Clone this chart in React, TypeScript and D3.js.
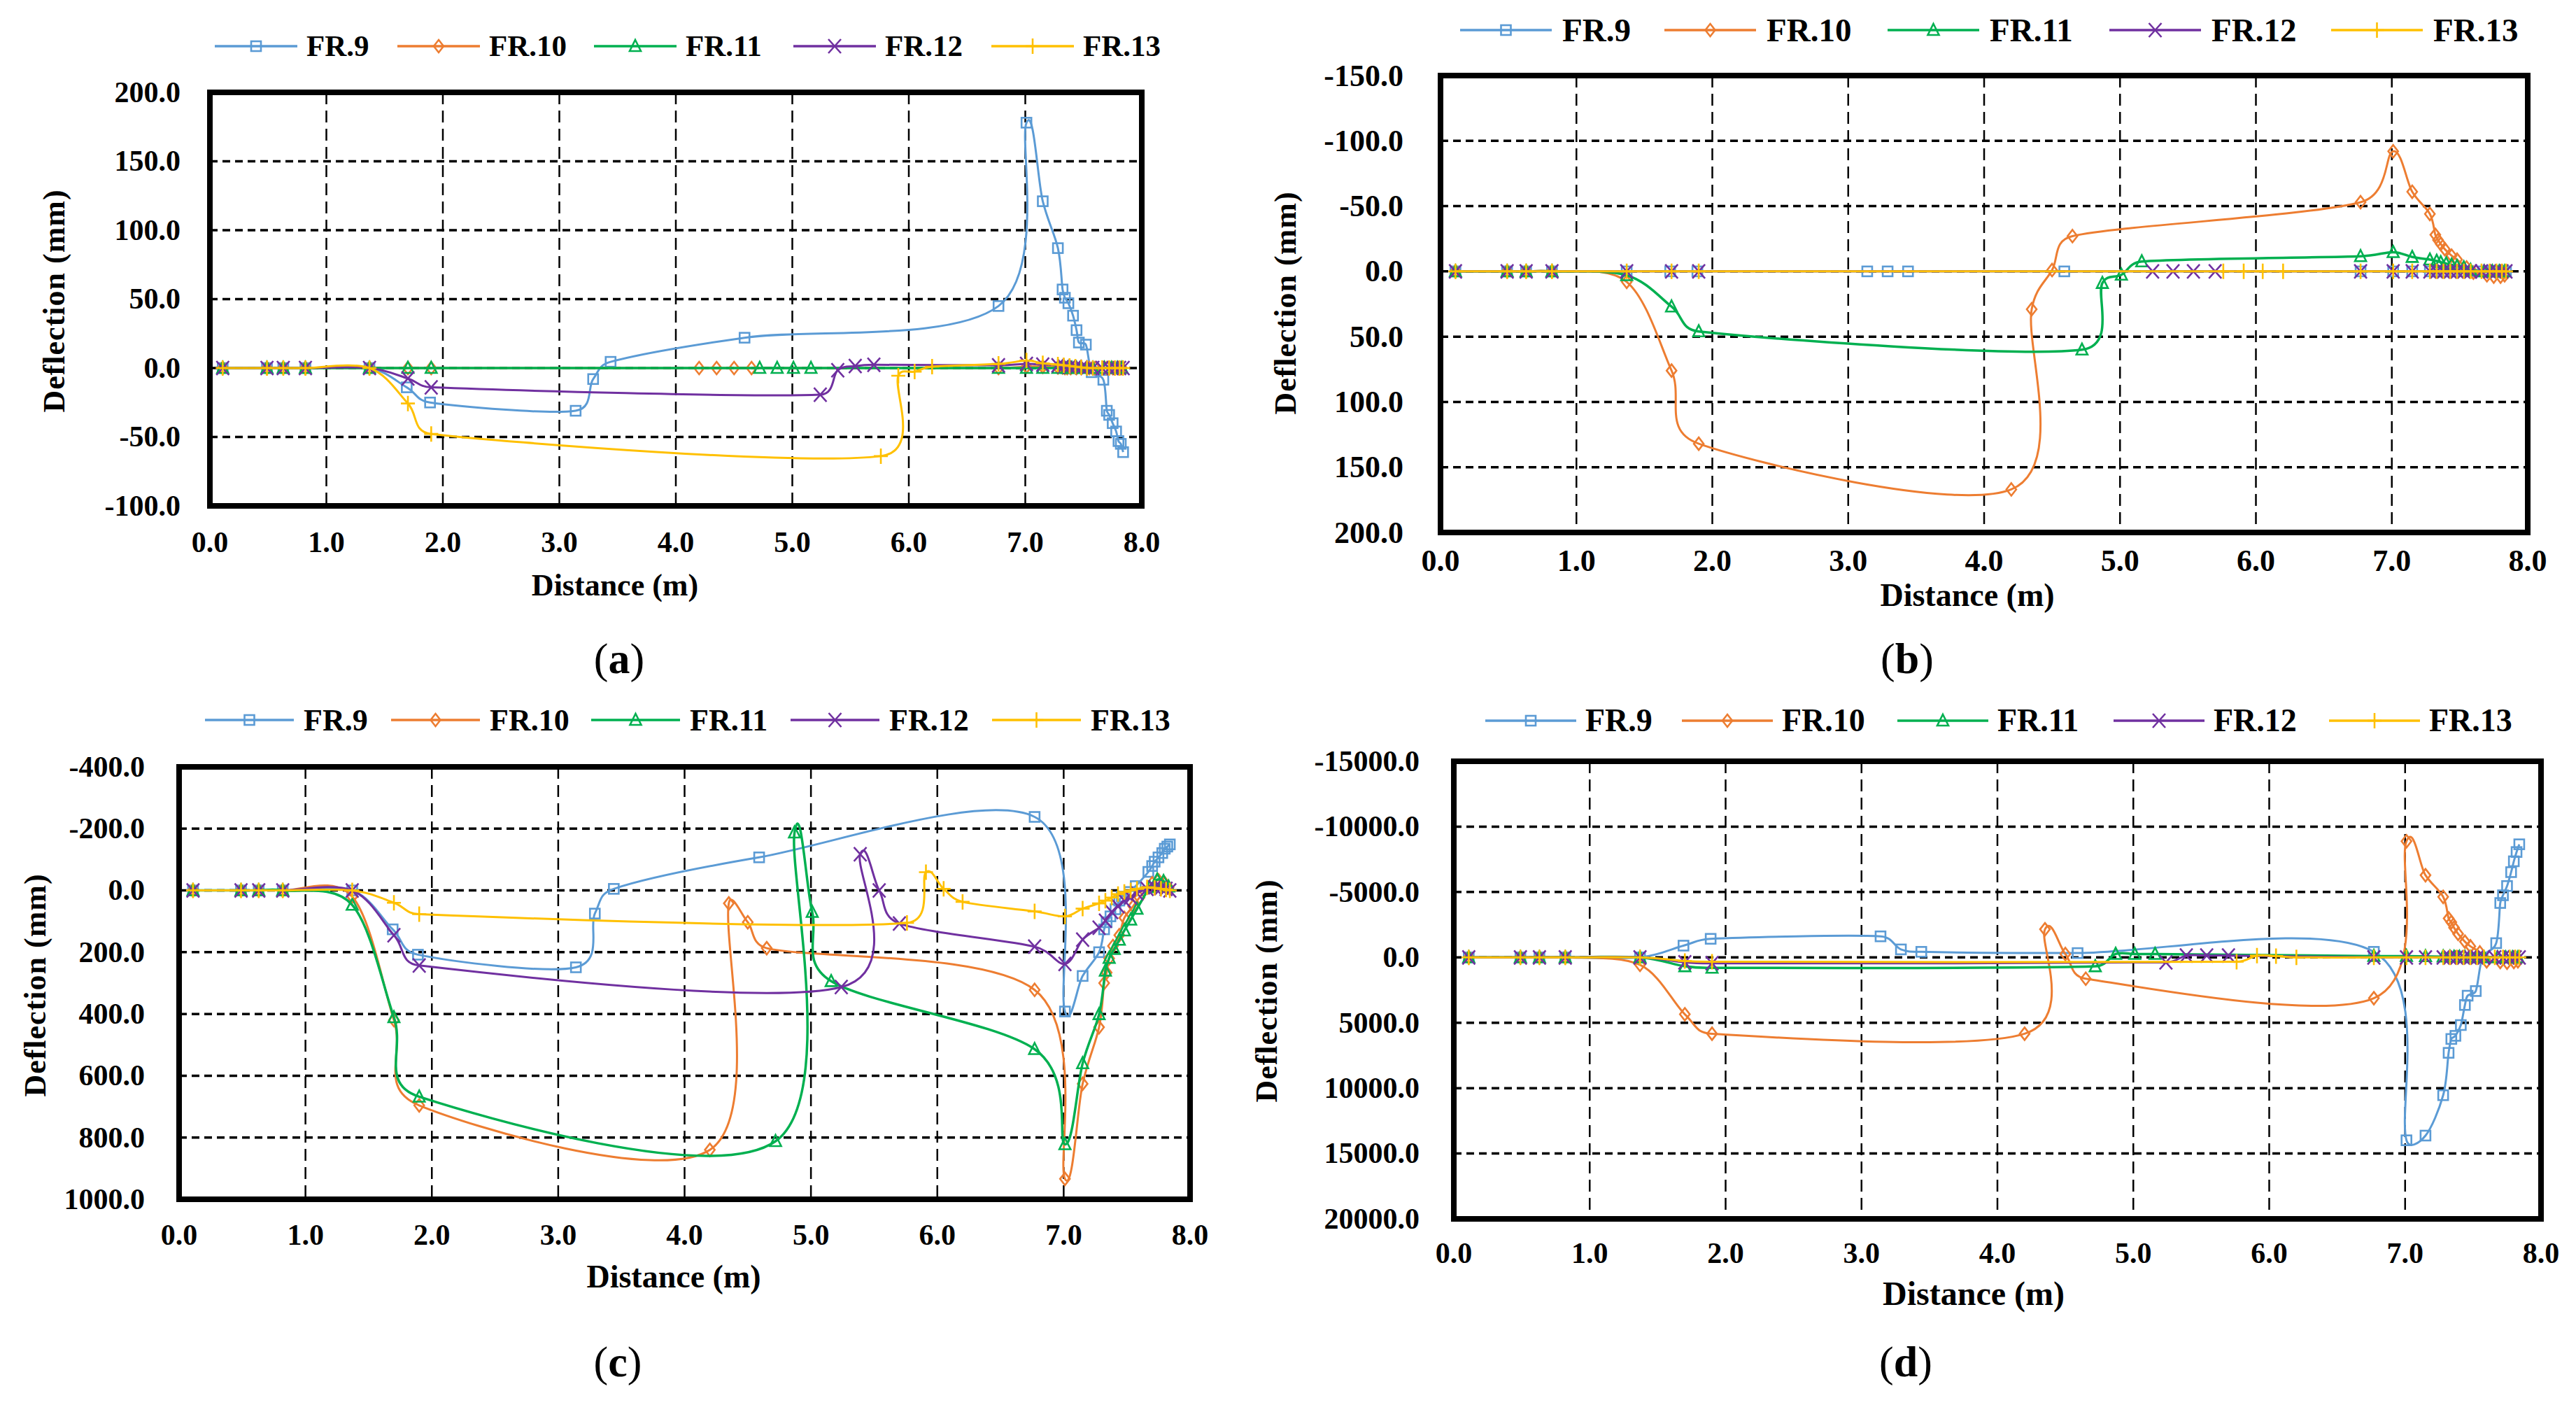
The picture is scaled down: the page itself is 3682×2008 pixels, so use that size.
import React from 'react';
import * as d3 from 'd3';

const FONT = '"Liberation Serif", "Times New Roman", Times, serif';

// ---------- series meta ----------
const seriesNames = ['FR.9', 'FR.10', 'FR.11', 'FR.12', 'FR.13'];
const seriesColors = ['#5B9BD5', '#ED7D31', '#00B050', '#7030A0', '#FFC000'];
const markerShapes = ['square', 'diamond', 'triangle', 'cross', 'plus'];

const xTicks = [0, 1, 2, 3, 4, 5, 6, 7, 8];

// ---------- stations (distance, m) per series ----------
const fr9X = [0.11, 0.49, 0.63, 0.82, 1.37, 1.69, 1.89, 3.14, 3.29, 3.44, 4.59, 6.77, 7.01, 7.15, 7.28, 7.32, 7.34, 7.37, 7.41, 7.44, 7.46, 7.52, 7.57, 7.67, 7.70, 7.72, 7.75, 7.78, 7.80, 7.82, 7.84];
const fr10X = [0.11, 0.49, 0.63, 0.82, 1.37, 1.70, 1.90, 4.20, 4.35, 4.50, 4.65, 6.77, 7.01, 7.15, 7.28, 7.32, 7.34, 7.36, 7.39, 7.44, 7.48, 7.55, 7.60, 7.70, 7.75, 7.80, 7.83];
const fr11X = [0.11, 0.49, 0.63, 0.82, 1.37, 1.70, 1.90, 4.72, 4.87, 5.01, 5.16, 6.77, 7.01, 7.15, 7.28, 7.33, 7.36, 7.40, 7.44, 7.48, 7.53, 7.58, 7.68, 7.74, 7.79, 7.83];
const fr12X = [0.11, 0.49, 0.63, 0.82, 1.37, 1.70, 1.90, 5.24, 5.39, 5.54, 5.70, 6.77, 7.01, 7.15, 7.28, 7.33, 7.38, 7.43, 7.48, 7.53, 7.58, 7.66, 7.72, 7.77, 7.81, 7.84];
const fr13X = [0.11, 0.49, 0.63, 0.82, 1.37, 1.70, 1.90, 5.76, 5.91, 6.05, 6.20, 6.77, 7.01, 7.15, 7.28, 7.33, 7.38, 7.43, 7.48, 7.53, 7.58, 7.66, 7.72, 7.77, 7.81, 7.84];

// ---------- deflection (mm), panel (a) ----------
const a9 = [0, 0, 0, 0, 0, -14, -25, -31, -8, 4.5, 22, 45, 178, 121, 87, 57, 51, 47, 38, 27.5, 18.5, 17, -3, -8.5, -31, -34, -40, -46, -53, -55, -61];
const a10 = [0, 0, 0, 0, 0, 0, 0, 0, 0, 0, 0, 0, 1, 1, 0.5, 0.5, 0, 0, 0, 0, 0, 0, 0, 0, 0, 0, 0];
const a11 = [0, 0, 0, 0, 0, 0, 0, 0, 0, 0, 0, 0, 0, 0, 0, 0, 0, 0, 0, 0, 0, 0, 0, 0, 0, 0];
const a12 = [0, 0, 0, 0, 0, -7.6, -14, -19.3, -1.6, 1.4, 2.4, 2, 3, 2.5, 2, 1.5, 1, 1, 0.5, 0, 0, 0, 0, 0, 0, 0];
const a13 = [0, 0, 0, 0, 0, -25.7, -47.8, -63.9, -5.6, -2.6, 1, 3, 5.4, 3.4, 2.5, 2, 1.5, 1, 0.5, 0, 0, 0, 0, 0, 0, 0];

// ---------- panel (b) ----------
const b9 = [0, 0, 0, 0, 0, 0, 0, 0, 0, 0, 0, 0, 0, 0, 0, 0, 0, 0, 0, 0, 0, 0, 0, 0, 0, 0, 0, 0, 0, 0, 0];
const b10 = [0, 0, 0, 0, 8, 76, 132, 167, 29, -1, -27, -53, -92, -61, -44, -28, -24, -21, -17, -12, -9, -3, 1, 3, 4, 4, 3];
const b11 = [0, 0, 0, 0, 3, 27, 46, 60, 9, 2.6, -7.6, -11.6, -14.7, -11, -9, -8, -7, -6, -5, -4, -3, -1, 0, 0, 0, 0];
const b12 = [0, 0, 0, 0, 0, 0, 0, 0, 0, 0, 0, 0, 0, 0, 0, 0, 0, 0, 0, 0, 0, 0, 0, 0, 0, 0];
const b13 = [0, 0, 0, 0, 0, 0, 0, 0, 0, 0, 0, 0, 0, 0, 0, 0, 0, 0, 0, 0, 0, 0, 0, 0, 0, 0];

// ---------- panel (c) ----------
const c9 = [0, 0, 0, 0, 0, 126, 208, 249, 75, -5, -107, -238, 392, 277, 200, 126, 103, 84, 61, 33, 20, 5, -14, -60, -79, -93, -107, -121, -135, -142, -149];
const c10 = [0, 0, 0, 0, 20, 420, 696, 840, 42, 103, 187, 322, 934, 626, 443, 300, 266, 220, 180, 145, 89, 51, 23, -23, -33, -23, -9];
const c11 = [0, 0, 0, 0, 47, 411, 668, 812, -187, 70, 294, 514, 822, 560, 401, 260, 219, 190, 160, 130, 95, 60, -10, -35, -30, -12];
const c12 = [0, 0, 0, 0, 0, 145, 243, 313, -117, 0, 107, 182, 238, 159, 121, 98, 70, 51, 33, 23, 9, -5, -10, -8, -5, 0];
const c13 = [0, 0, 0, 0, 0, 40, 77, 105, -59, -5, 37, 68, 84, 59, 42, 33, 23, 12, 5, 0, -5, -10, -8, -5, -3, 0];

// ---------- panel (d) ----------
const d9 = [0, 0, 0, 0, 0, -900, -1420, -1610, -610, -425, -330, -425, 13990, 13630, 10540, 7300, 6240, 6000, 5175, 3640, 2930, 2575, 0, -1090, -4160, -4750, -5460, -6520, -7350, -8060, -8650];
const d10 = [0, 0, 0, 0, 570, 4350, 5840, 5840, -2150, -260, 1630, 3120, -8885, -6285, -4630, -2980, -2690, -2270, -1800, -1200, -850, -380, 300, 350, 400, 350, 300];
const d11 = [0, 0, 0, 0, 0, 685, 800, 685, -260, -260, -260, -100, -100, -80, -60, -50, -40, -30, -20, -10, 0, 0, 0, 0, 0, 0];
const d12 = [0, 0, 0, 0, 0, 380, 450, 380, -140, -140, -140, 0, 0, 0, 0, 0, 0, 0, 0, 0, 0, 0, 0, 0, 0, 0];
const d13 = [0, 0, 0, 0, 0, 280, 330, 330, -140, -100, 0, 0, 0, 0, 0, 0, 0, 0, 0, 0, 0, 0, 0, 0, 0, 0];

const seriesX = [fr9X, fr10X, fr11X, fr12X, fr13X];

// ---------- layout (pixels) ----------
type PanelCfg = {
  id: string;
  ys: number[][];
  yDomain: [number, number];
  yTicks: number[];
  left: number; right: number; top: number; bottom: number;
  tickFont: number; yLabelRight: number; xLabelBase: number;
  titleFont: number; xTitleX: number; xTitleY: number; yTitleX: number; yTitleY: number;
  legendY: number; legendStarts: number[]; legendLen: number; legendGap: number; legendFont: number;
  capX: number; capY: number;
};

const panels: PanelCfg[] = [
  {
    id: 'a', ys: [a9, a10, a11, a12, a13], yDomain: [200, -100], yTicks: d3.range(-100, 201, 50),
    left: 300, right: 1632, top: 132, bottom: 723,
    tickFont: 42, yLabelRight: 258, xLabelBase: 789,
    titleFont: 44, xTitleX: 879, xTitleY: 851, yTitleX: 77, yTitleY: 430,
    legendY: 66, legendStarts: [307, 568, 849, 1134, 1417], legendLen: 118, legendGap: 13, legendFont: 43,
    capX: 885, capY: 962,
  },
  {
    id: 'b', ys: [b9, b10, b11, b12, b13], yDomain: [-150, 200], yTicks: d3.range(-150, 201, 50),
    left: 2059, right: 3613, top: 108, bottom: 761,
    tickFont: 44, yLabelRight: 2006, xLabelBase: 816,
    titleFont: 46, xTitleX: 2812, xTitleY: 866, yTitleX: 1837, yTitleY: 433,
    legendY: 43, legendStarts: [2087, 2379, 2698, 3015, 3332], legendLen: 131, legendGap: 15, legendFont: 47,
    capX: 2726, capY: 962,
  },
  {
    id: 'c', ys: [c9, c10, c11, c12, c13], yDomain: [-400, 1000], yTicks: d3.range(-400, 1001, 200),
    left: 256, right: 1701, top: 1096, bottom: 1714,
    tickFont: 42, yLabelRight: 207, xLabelBase: 1779,
    titleFont: 46, xTitleX: 963, xTitleY: 1840, yTitleX: 50, yTitleY: 1408,
    legendY: 1029, legendStarts: [293, 559, 845, 1130, 1418], legendLen: 127, legendGap: 14, legendFont: 44,
    capX: 883, capY: 1967,
  },
  {
    id: 'd', ys: [d9, d10, d11, d12, d13], yDomain: [-15000, 20000], yTicks: d3.range(-15000, 20001, 5000),
    left: 2078, right: 3632, top: 1088, bottom: 1742,
    tickFont: 42, yLabelRight: 2029, xLabelBase: 1805,
    titleFont: 48, xTitleX: 2821, xTitleY: 1865, yTitleX: 1810, yTitleY: 1416,
    legendY: 1030, legendStarts: [2123, 2404, 2712, 3021, 3329], legendLen: 130, legendGap: 13, legendFont: 46,
    capX: 2724, capY: 1967,
  },
];

const fmt = (v: number) => v.toFixed(1);

// Excel-like smoothed line: Bezier segments with tangents (P[i+1]-P[i-1])/6,
// limited to half the segment length.
function smoothPath(pts: [number, number][]): string {
  const n = pts.length;
  if (!n) return '';
  const p = d3.path();
  p.moveTo(pts[0][0], pts[0][1]);
  const dist = (a: [number, number], b: [number, number]) => Math.hypot(a[0] - b[0], a[1] - b[1]);
  for (let i = 0; i < n - 1; i++) {
    const p0 = pts[Math.max(i - 1, 0)];
    const p1 = pts[i];
    const p2 = pts[i + 1];
    const p3 = pts[Math.min(i + 2, n - 1)];
    const d12 = dist(p1, p2);
    if (d12 < 1e-6) continue;
    const d02 = dist(p0, p2);
    const d13 = dist(p1, p3);
    let f1 = 1 / 6;
    let f2 = 1 / 6;
    if (d02 > 0 && d02 / 6 > d12 / 2) f1 = d12 / (2 * d02);
    if (d13 > 0 && d13 / 6 > d12 / 2) f2 = d12 / (2 * d13);
    p.bezierCurveTo(
      p1[0] + (p2[0] - p0[0]) * f1,
      p1[1] + (p2[1] - p0[1]) * f1,
      p2[0] - (p3[0] - p1[0]) * f2,
      p2[1] - (p3[1] - p1[1]) * f2,
      p2[0],
      p2[1]
    );
  }
  return p.toString();
}

function Marker({ shape, cx, cy, color }: { shape: string; cx: number; cy: number; color: string }) {
  const common = { fill: 'none', stroke: color, strokeWidth: 2.6 };
  switch (shape) {
    case 'square':
      return <rect x={cx - 7} y={cy - 7} width={14} height={14} {...common} />;
    case 'diamond':
      return <path d={`M${cx},${cy - 9}L${cx + 7},${cy}L${cx},${cy + 9}L${cx - 7},${cy}Z`} {...common} />;
    case 'triangle':
      return <path d={`M${cx},${cy - 9}L${cx + 8},${cy + 7}L${cx - 8},${cy + 7}Z`} {...common} />;
    case 'cross':
      return <path d={`M${cx - 9},${cy - 10}L${cx + 9},${cy + 10}M${cx + 9},${cy - 10}L${cx - 9},${cy + 10}`} {...common} />;
    default:
      return <path d={`M${cx - 10},${cy}L${cx + 10},${cy}M${cx},${cy - 11}L${cx},${cy + 11}`} {...common} />;
  }
}

function Panel({ cfg }: { cfg: PanelCfg }) {
  const x = d3.scaleLinear().domain([0, 8]).range([cfg.left, cfg.right]);
  const y = d3.scaleLinear().domain(cfg.yDomain).range([cfg.top, cfg.bottom]);
  const clipId = `clip-${cfg.id}`;
  const series = cfg.ys.map((ys, i) => seriesX[i].map((xv, j) => [xv, ys[j]] as [number, number]));
  const innerY = cfg.yTicks.filter((t) => t !== cfg.yDomain[0] && t !== cfg.yDomain[1]);
  const innerX = xTicks.filter((t) => t !== 0 && t !== 8);

  return (
    <g>
      <defs>
        <clipPath id={clipId}>
          <rect x={cfg.left} y={cfg.top} width={cfg.right - cfg.left} height={cfg.bottom - cfg.top} />
        </clipPath>
      </defs>
      {innerX.map((t) => (
        <line key={`vx${t}`} x1={x(t)} x2={x(t)} y1={cfg.top} y2={cfg.bottom} stroke="#000" strokeWidth={2.5} strokeDasharray="17,9" />
      ))}
      {innerY.map((t) => (
        <line key={`hy${t}`} x1={cfg.left} x2={cfg.right} y1={y(t)} y2={y(t)} stroke="#000" strokeWidth={3.5} strokeDasharray="11,7" />
      ))}
      <g clipPath={`url(#${clipId})`}>
        {series.map((pts, i) => {
          const px = pts.map((d) => [x(d[0]), y(d[1])] as [number, number]);
          return (
            <g key={seriesNames[i]}>
              <path d={smoothPath(px)} fill="none" stroke={seriesColors[i]} strokeWidth={i === 2 ? 3.5 : 3} />
              {px.map((p, j) => (
                <Marker key={j} shape={markerShapes[i]} cx={p[0]} cy={p[1]} color={seriesColors[i]} />
              ))}
            </g>
          );
        })}
      </g>
      <rect x={cfg.left} y={cfg.top} width={cfg.right - cfg.left} height={cfg.bottom - cfg.top} fill="none" stroke="#000" strokeWidth={8} />
      {cfg.yTicks.map((t) => (
        <text key={`yl${t}`} x={cfg.yLabelRight} y={y(t) + cfg.tickFont * 0.33} textAnchor="end" fontFamily={FONT} fontWeight="bold" fontSize={cfg.tickFont}>
          {fmt(t)}
        </text>
      ))}
      {xTicks.map((t) => (
        <text key={`xl${t}`} x={x(t)} y={cfg.xLabelBase} textAnchor="middle" fontFamily={FONT} fontWeight="bold" fontSize={cfg.tickFont}>
          {fmt(t)}
        </text>
      ))}
      <text x={cfg.xTitleX} y={cfg.xTitleY} textAnchor="middle" fontFamily={FONT} fontWeight="bold" fontSize={cfg.titleFont}>
        Distance (m)
      </text>
      <text
        transform={`translate(${cfg.yTitleX},${cfg.yTitleY}) rotate(-90)`}
        textAnchor="middle"
        dominantBaseline="central"
        fontFamily={FONT}
        fontWeight="bold"
        fontSize={44}
        letterSpacing={1}
      >
        Deflection (mm)
      </text>
      {seriesNames.map((name, i) => {
        const x0 = cfg.legendStarts[i];
        const x1 = x0 + cfg.legendLen;
        return (
          <g key={`lg${name}`}>
            <line x1={x0} x2={x1} y1={cfg.legendY} y2={cfg.legendY} stroke={seriesColors[i]} strokeWidth={3.5} />
            <Marker shape={markerShapes[i]} cx={(x0 + x1) / 2} cy={cfg.legendY} color={seriesColors[i]} />
            <text x={x1 + cfg.legendGap} y={cfg.legendY + cfg.legendFont * 0.33} fontFamily={FONT} fontWeight="bold" fontSize={cfg.legendFont}>
              {name}
            </text>
          </g>
        );
      })}
      <text x={cfg.capX} y={cfg.capY} textAnchor="middle" fontFamily={FONT} fontSize={62}>
        (<tspan fontWeight="bold">{cfg.id}</tspan>)
      </text>
    </g>
  );
}

export default function App() {
  return (
    <svg
      width={3682}
      height={2008}
      viewBox="0 0 3682 2008"
      style={{ position: 'absolute', left: 0, top: 0, background: '#fff' }}
    >
      <rect x={0} y={0} width={3682} height={2008} fill="#fff" />
      {panels.map((p) => (
        <Panel key={p.id} cfg={p} />
      ))}
    </svg>
  );
}
